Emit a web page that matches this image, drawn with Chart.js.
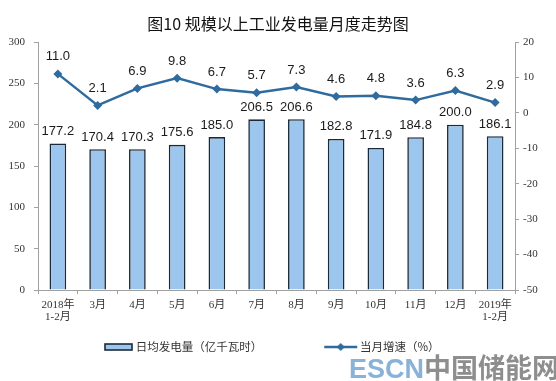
<!DOCTYPE html>
<html><head><meta charset="utf-8">
<script src="https://cdn.jsdelivr.net/npm/chart.js@4.4.1/dist/chart.umd.min.js"></script>
<style>
html,body{margin:0;padding:0;background:#fff;}
#wrap{position:relative;width:556px;height:381px;overflow:hidden;}
#wm{position:absolute;left:349px;top:351px;font-weight:bold;font-size:27px;white-space:nowrap;line-height:32px;}
</style></head><body>
<div id="wrap"><canvas id="c" width="556" height="381"></canvas>
<div id="wm"><span style="color:#8ab2d8;font-family:'Liberation Sans',Arial,sans-serif;">ESCN</span><span style="color:#8e8e8e;font-family:'Noto Sans CJK SC',sans-serif;">中国储能网</span></div></div>
<script>
const categories = [['2018年','1-2月'],'3月','4月','5月','6月','7月','8月','9月','10月','11月','12月',['2019年','1-2月']];
const dailyOutput = [177.2,170.4,170.3,175.6,185.0,206.5,206.6,182.8,171.9,184.8,200.0,186.1];
const monthlyGrowth = [11.0,2.1,6.9,9.8,6.7,5.7,7.3,4.6,4.8,3.6,6.3,2.9];
const leftAxis = {min:0, max:300, step:50};
const rightAxis = {min:-50, max:20, step:10};
const titleText = '图10 规模以上工业发电量月度走势图';
const seriesNames = ['日均发电量（亿千瓦时）','当月增速（%）'];

const barFill = '#9dc6ee';
const barBorder = '#1b2a38';
const lineColor = '#2f6b9e';
const axisColor = '#a0a0a0';

function makeIcon(kind){
  const c = document.createElement('canvas');
  c.width = 90; c.height = 10;
  const g = c.getContext('2d');
  if (kind === 'bar') {
    g.fillStyle = barFill; g.fillRect(61,2,27,6);
    g.strokeStyle = barBorder; g.lineWidth = 1.6; g.strokeRect(61,2,27,6);
  } else {
    g.strokeStyle = lineColor; g.lineWidth = 2.5;
    g.beginPath(); g.moveTo(56,5); g.lineTo(89,5); g.stroke();
    g.fillStyle = lineColor; g.beginPath();
    g.moveTo(72.5,1); g.lineTo(76.5,5); g.lineTo(72.5,9); g.lineTo(68.5,5); g.closePath(); g.fill();
  }
  return c;
}
const icons = [makeIcon('bar'), makeIcon('line')];

const valueLabels = {
  id: 'valueLabels',
  afterDatasetsDraw(chart){
    const ctx = chart.ctx;
    ctx.save();
    ctx.font = '13px "Liberation Sans", Arial, sans-serif';
    ctx.fillStyle = '#1a1a1a';
    ctx.textAlign = 'center';
    ctx.textBaseline = 'middle';
    chart.data.datasets.forEach((ds, i) => {
      const meta = chart.getDatasetMeta(i);
      const off = ds.type === 'line' ? 17 : 12;
      meta.data.forEach((el, j) => {
        ctx.fillText(ds.data[j].toFixed(1), el.x, el.y - off);
      });
    });
    ctx.restore();
  }
};

const tickFont = {family: "'Liberation Serif','Times New Roman',serif", size: 11};

new Chart(document.getElementById('c'), {
  type: 'bar',
  data: {
    labels: categories,
    datasets: [
      {
        type: 'bar', label: seriesNames[0], data: dailyOutput, yAxisID: 'y',
        backgroundColor: barFill, borderColor: barBorder, borderWidth: 1.6,
        barPercentage: 0.42, categoryPercentage: 1, order: 2
      },
      {
        type: 'line', label: seriesNames[1], data: monthlyGrowth, yAxisID: 'y1',
        borderColor: lineColor, borderWidth: 2.5, tension: 0,
        pointStyle: 'rectRot', pointRadius: 4.5, pointBackgroundColor: lineColor,
        pointBorderColor: lineColor, pointBorderWidth: 0, order: 1
      }
    ]
  },
  options: {
    responsive: false,
    animation: false,
    devicePixelRatio: 1,
    layout: {padding: {left: 0, right: 0, top: 0, bottom: 18.25}},
    scales: {
      x: {
        offset: true,
        grid: {display: true, drawOnChartArea: false, drawTicks: true, tickLength: 4, color: axisColor, offset: true},
        border: {display: true, color: axisColor, width: 1},
        ticks: {font: {family: "'Liberation Serif','Noto Sans CJK SC',serif", size: 11, lineHeight: 1.1},
                color: '#333', padding: 5, maxRotation: 0, autoSkip: false},
        afterFit(s){ s.height = 41.25; }
      },
      y: {
        position: 'left', min: leftAxis.min, max: leftAxis.max,
        ticks: {stepSize: leftAxis.step, font: tickFont, color: '#333', padding: 9},
        grid: {drawOnChartArea: false, tickLength: 4, color: axisColor},
        border: {display: true, color: axisColor, width: 1},
        afterFit(s){ s.width = 38; }
      },
      y1: {
        position: 'right', min: rightAxis.min, max: rightAxis.max,
        ticks: {stepSize: rightAxis.step, font: tickFont, color: '#333', padding: 4},
        grid: {drawOnChartArea: false, tickLength: 4, color: axisColor},
        border: {display: true, color: axisColor, width: 1},
        afterFit(s){ s.width = 41; }
      }
    },
    plugins: {
      tooltip: {enabled: false},
      title: {
        display: true, text: titleText, color: '#111',
        font: {family: "'Noto Sans CJK SC',sans-serif", size: 16, weight: 'normal', lineHeight: 1.2},
        padding: {top: 14, bottom: 8.8}
      },
      legend: {
        display: true, position: 'bottom', align: 'start', fullSize: false,
        labels: {
          usePointStyle: true, pointStyleWidth: 82, padding: 10, color: '#333',
          font: {family: "'Noto Sans CJK SC',sans-serif", size: 11.5},
          generateLabels(chart){
            return chart.data.datasets.map((ds, i) => ({
              text: ds.label, pointStyle: icons[i], fillStyle: 'transparent',
              strokeStyle: 'transparent', lineWidth: 0, hidden: false, datasetIndex: i, fontColor: '#333'
            }));
          }
        }
      }
    }
  },
  plugins: [valueLabels]
});
</script>
</body></html>
